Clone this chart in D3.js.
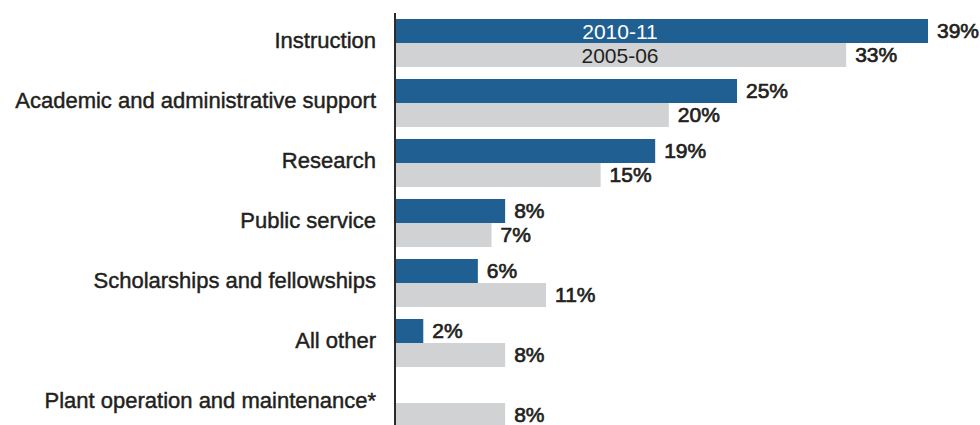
<!DOCTYPE html>
<html>

<head>
  <meta charset="utf-8">
  <title>Spending by function</title>
  <style>
    body {
      margin: 0;
      background: #fff;
    }

    svg text {
      font-family: "Liberation Sans Narrow", "Liberation Sans", Arial, sans-serif;
      fill: #231f20;
    }

    .cat {
      font-size: 22px;
      stroke: #231f20;
      stroke-width: 0.45px;
    }

    .value {
      font-size: 21px;
      stroke: #231f20;
      stroke-width: 0.7px;
    }

    .legend {
      font-size: 21px;
    }
  </style>
</head>

<body>
  <script src="https://cdn.jsdelivr.net/npm/d3@7/dist/d3.min.js"></script>
  <script>
    var categories = ["Instruction", "Academic and administrative support", "Research",
      "Public service", "Scholarships and fellowships", "All other",
      "Plant operation and maintenance*"];
    var years = ["2010-11", "2005-06"];
    var values2011 = [39, 25, 19, 8, 6, 2, null];
    var values2006 = [33, 20, 15, 7, 11, 8, 8];

    var colors = { "2010-11": "#1f5f91", "2005-06": "#d1d2d4" };

    var width = 980, height = 425;

    var svg = d3.select("body").append("svg")
      .attr("width", width)
      .attr("height", height);

    // one row per category, two bars stacked inside
    var x = d3.scaleLinear().domain([0, 39]).range([396, 928]);
    var y = d3.scaleBand()
      .domain(categories)
      .range([19, 427])
      .paddingInner(0.2)
      .paddingOuter(0);
    var sub = d3.scaleBand()
      .domain(years)
      .range([0, y.bandwidth()]);

    var rows = categories.map(function (c, i) {
      return {
        cat: c,
        bars: [
          { year: "2010-11", value: values2011[i] },
          { year: "2005-06", value: values2006[i] }
        ]
      };
    });

    var row = svg.selectAll("g.row")
      .data(rows)
      .join("g")
      .attr("class", "row")
      .attr("transform", d => "translate(0," + y(d.cat) + ")");

    var bar = row.selectAll("g.bar")
      .data(d => d.bars.filter(b => b.value != null))
      .join("g")
      .attr("class", "bar");

    bar.append("rect")
      .attr("x", x(0))
      .attr("y", d => sub(d.year))
      .attr("width", d => x(d.value) - x(0))
      .attr("height", sub.bandwidth())
      .attr("fill", d => colors[d.year]);

    bar.append("text")
      .attr("class", "value")
      .attr("x", d => x(d.value) + 9)
      .attr("y", d => sub(d.year) + sub.bandwidth() / 2)
      .attr("dy", "0.34em")
      .text(d => d.value + "%");

    row.append("text")
      .attr("class", "cat")
      .attr("x", 376)
      .attr("y", 29)
      .attr("text-anchor", "end")
      .text(d => d.cat);

    // legend written inside the first pair of bars
    svg.selectAll("text.legend")
      .data(years)
      .join("text")
      .attr("class", "legend")
      .attr("x", 620)
      .attr("y", d => y(categories[0]) + sub(d) + sub.bandwidth() / 2)
      .attr("dy", "0.36em")
      .attr("text-anchor", "middle")
      .style("fill", d => d == "2010-11" ? "#fff" : "#231f20")
      .text(d => d);

    // vertical baseline
    svg.append("line")
      .attr("x1", x(0) - 1)
      .attr("x2", x(0) - 1)
      .attr("y1", 13)
      .attr("y2", height)
      .attr("stroke", "#2b2b2b")
      .attr("stroke-width", 2);
  </script>
</body>

</html>
